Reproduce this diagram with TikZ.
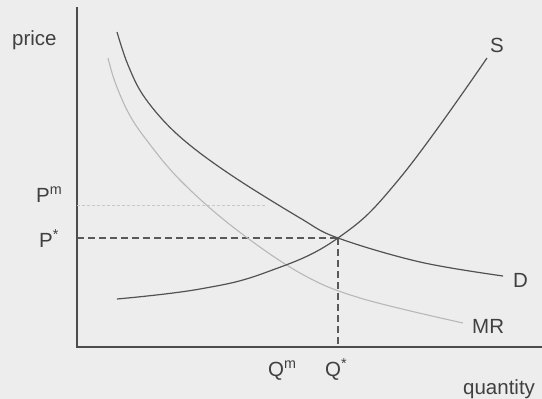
\documentclass[tikz,border=0pt]{standalone}
\usepackage{fontspec}
\setmainfont{Liberation Sans}
\begin{document}
\begin{tikzpicture}[x=1pt,y=-1pt,
  lbl/.style={anchor=base west, inner sep=0pt, text=black!75, font=\fontsize{20.5}{24}\selectfont},
  axisline/.style={draw=black!70, line width=1.2pt},
  curve/.style={draw=black!68, line width=1.2pt},
  mrcurve/.style={draw=black!28, line width=1.1pt},
  guide/.style={draw=black!65, line width=1.3pt, dash pattern=on 7pt off 4pt},
  faint/.style={draw=black!22, line width=0.9pt, dash pattern=on 3pt off 2pt}]
\fill[black!7] (0,0) rectangle (542,399);
\useasboundingbox (0,0) rectangle (542,399);
% axes
\coordinate (top) at (77,7);
\coordinate (O) at (77,347);
\coordinate (right) at (542,347);
\draw[axisline] (top) -- (O) -- (right);
% key points
\coordinate (E) at (338,238);
\coordinate (Eaxis) at (77,238);
\coordinate (Eq) at (338,347);
\coordinate (Pmaxis) at (77,205);
\coordinate (Pmend) at (267,205);
% guide lines
\draw[faint] (Pmaxis) -- (Pmend);
\draw[guide] (Eaxis) -- (E);
\draw[guide] (E) -- (Eq);
% curves
\draw[mrcurve] plot[smooth, tension=0.6] coordinates {(108,58) (115,82) (128,112) (145,138) (180,180) (233,227) (300,273) (360,298) (463,323)};
\draw[curve] plot[smooth, tension=0.6] coordinates {(117,32) (128,65) (145,98) (178,135) (228,173) (300,218) (338,238) (420,262) (503,276)};
\draw[curve] plot[smooth, tension=0.7] coordinates {(117,299) (200,289) (267,272) (338,238) (400,178) (487,58)};
% labels
\node[lbl] (price) at (12,45) {price};
\node[lbl] (pm) at (36,202) {P\textsuperscript{m}};
\node[lbl] (ps) at (39,247) {P\textsuperscript{*}};
\node[lbl] (qm) at (268,376) {Q\textsuperscript{m}};
\node[lbl] (qs) at (325,376) {Q\textsuperscript{*}};
\node[lbl] (qty) at (463,394) {quantity};
\node[lbl] (S) at (490,52) {S};
\node[lbl] (D) at (513,287) {D};
\node[lbl] (MR) at (472,333) {MR};
\end{tikzpicture}
\end{document}
